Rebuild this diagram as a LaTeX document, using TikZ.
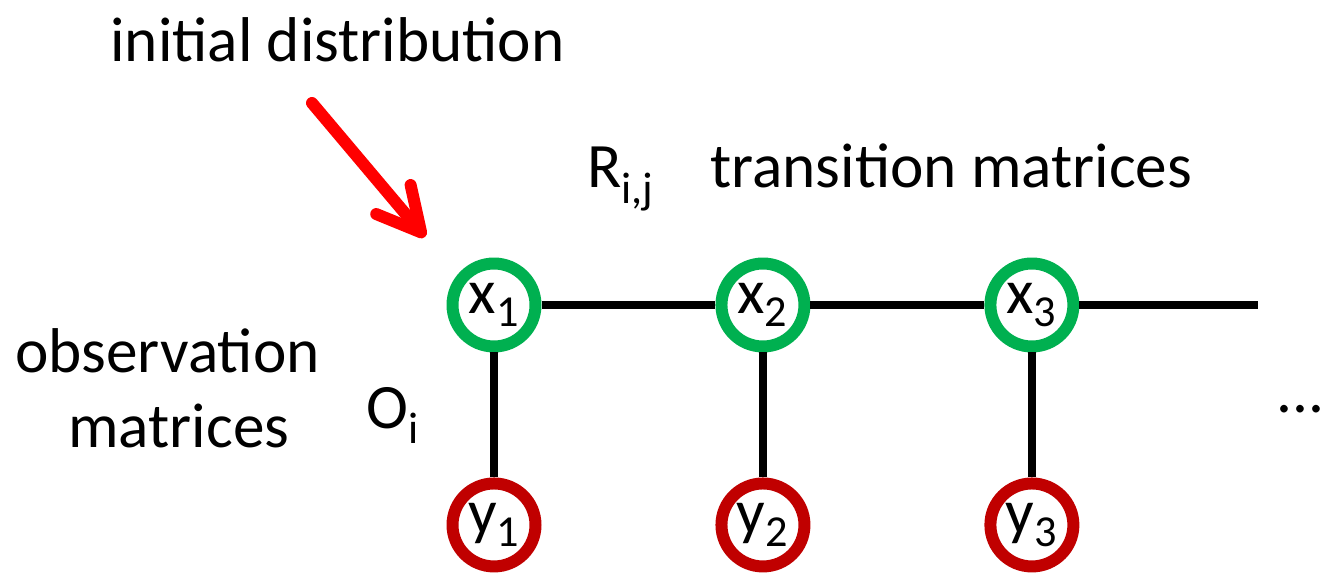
\documentclass[tikz,border=0pt]{standalone}
\usepackage{fontspec}
\setmainfont{Carlito}
\usetikzlibrary{arrows.meta,positioning}
\definecolor{stategreen}{RGB}{0,176,80}
\definecolor{obsred}{RGB}{192,0,0}
\definecolor{arrowred}{RGB}{255,0,0}

\begin{document}
\begin{tikzpicture}
[x=0.02cm, y=-0.02cm, node distance=5.38cm,
every node/.style={font=\fontsize{36}{42}\selectfont},
hidden/.style={circle, draw=stategreen, fill=white, line width=0.24cm, minimum size=1.66cm, inner sep=0pt},
observed/.style={circle, draw=obsred, fill=white, line width=0.24cm, minimum size=1.66cm, inner sep=0pt},
link/.style={line width=0.16cm, black},
label/.style={anchor=base west, inner sep=0pt}
]
  \useasboundingbox (0,0) rectangle (1324,574);

  % hidden chain
  \node[hidden] (x1) at (494,305) {x\textsubscript{1}};
  \node[hidden] (x2) [right of=x1] {x\textsubscript{2}};
  \node[hidden] (x3) [right of=x2] {x\textsubscript{3}};
  \coordinate (chainend) at (1258,305);

  % observations
  \node[observed] (y1) [below of=x1, node distance=4.4cm] {y\textsubscript{1}};
  \node[observed] (y2) [below of=x2, node distance=4.4cm] {y\textsubscript{2}};
  \node[observed] (y3) [below of=x3, node distance=4.4cm] {y\textsubscript{3}};

  \path[link]
    (x1) edge (x2)
    (x2) edge (x3)
    (x3) edge (chainend)
    (x1) edge (y1)
    (x2) edge (y2)
    (x3) edge (y3);

  % labels
  \node[label] (init)  at (110,62)  {initial distribution};
  \node[label] (rij)   at (587,188) {R\textsubscript{i,j}};
  \node[label] (trans) at (710,188) {transition matrices};
  \node[label] (obs1)  at (15,372)  {observation};
  \node[label] (obs2)  at (68,447)  {matrices};
  \node[label] (oi)    at (366,428) {O\textsubscript{i}};
  \node[label] (dots)  at (1276,412) {...};

  % initial distribution arrow
  \coordinate (arrowtail) at (312,103);
  \coordinate (arrowtip) at (425,237);
  \draw[arrowred, line width=0.24cm, line cap=round,
        -{Straight Barb[length=0.86cm, width=0.9cm, round]}] (arrowtail) -- (arrowtip);
\end{tikzpicture}
\end{document}
